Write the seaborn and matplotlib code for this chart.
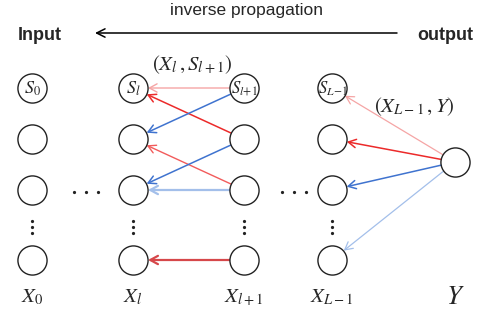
import numpy as np
import pandas as pd
import seaborn as sns
import matplotlib.pyplot as plt

# layers of the network, left to right
layers = ["X0", "Xl", "Xl1", "XL1", "Y"]
layer_labels = [r"$X_0$", r"$X_l$", r"$X_{l+1}$", r"$X_{L-1}$", r"$Y$"]
hidden_rows = [0, 1, 2, 4]          # row 3 is the vertical ellipsis
node_names = {("X0", 0): r"$S_0$", ("Xl", 0): r"$S_l$",
              ("Xl1", 0): r"$S_{l\!+\!1}$", ("XL1", 0): r"$S_{L\!-\!1}$"}

# back-propagation edges: source -> target, colour, width
edges = [
    ("Xl1", 0, "Xl", 0, "#f5a5a5", 1.0),
    ("Xl1", 1, "Xl", 0, "#ec2a2a", 1.1),
    ("Xl1", 0, "Xl", 1, "#3f73cf", 1.1),
    ("Xl1", 2, "Xl", 1, "#f25b5b", 1.0),
    ("Xl1", 1, "Xl", 2, "#3f73cf", 1.1),
    ("Xl1", 2, "Xl", 2, "#a3bfea", 1.6),
    ("Xl1", 4, "Xl", 4, "#d6474a", 1.6),
    ("Y", 0, "XL1", 0, "#f5a5a5", 0.9),
    ("Y", 0, "XL1", 1, "#ec2a2a", 1.1),
    ("Y", 0, "XL1", 2, "#3f73cf", 1.1),
    ("Y", 0, "XL1", 4, "#a3bfea", 0.9),
]

# layout (pixels)
layer_x = dict(zip(layers, [32, 133, 244, 332, 455]))
row_y = {0: 88, 1: 139, 2: 190, 4: 260}
out_y = 162
R = 14.5


def pos(layer, row):
    if layer == "Y":
        return layer_x[layer], out_y
    return layer_x[layer], row_y[row]


nodes = []
for lay in layers:
    rows = [0] if lay == "Y" else hidden_rows
    for r in rows:
        x, y = pos(lay, r)
        nodes.append({"layer": lay, "row": r, "x": x, "y": y})
nodes = pd.DataFrame(nodes)

sns.set_style("white")
plt.rcParams["mathtext.fontset"] = "stix"
plt.rcParams["font.family"] = ["Liberation Sans", "DejaVu Sans"]

fig = plt.figure(figsize=(4.85, 3.16), dpi=100)
ax = fig.add_axes([0, 0, 1, 1])

for s_lay, s_row, t_lay, t_row, col, lw in edges:
    x0, y0 = pos(s_lay, s_row)
    x1, y1 = pos(t_lay, t_row)
    d = np.array([x1 - x0, y1 - y0], float)
    d /= np.hypot(*d)
    start = (x0 + d[0] * (R - 1), y0 + d[1] * (R - 1))
    end = (x1 - d[0] * (R + 0.5), y1 - d[1] * (R + 0.5))
    ax.annotate("", xy=end, xytext=start,
                arrowprops=dict(arrowstyle="->,head_length=0.55,head_width=0.3",
                                color=col, lw=lw, shrinkA=0, shrinkB=0,
                                mutation_scale=10), zorder=2)

sns.scatterplot(data=nodes, x="x", y="y", s=440, marker="o", color="white",
                edgecolor="#222222", linewidth=1.0, ax=ax, zorder=3, legend=False)

for (lay, r), txt in node_names.items():
    x, y = pos(lay, r)
    fs = 13 if r"\!" not in txt else 12
    ax.text(x + 0.5, y + 1, txt, ha="center", va="center", fontsize=fs, zorder=4)

# ellipses
for lay in layers[:4]:
    ax.plot([layer_x[lay]] * 3, [221, 227, 233], ls="none", marker="o",
            ms=1.3, color="#222222")
for xc in [86, 294]:
    ax.plot([xc - 12, xc, xc + 12], [192] * 3, ls="none", marker="o",
            ms=1.3, color="#222222")

for lay, lab in zip(layers, layer_labels):
    ax.text(layer_x[lay], 297, lab, ha="center", va="center",
            fontsize=19 if lay == "Y" else 15)

ax.text(192, 65, r"$(X_l\,,S_{l+1})$", ha="center", va="center", fontsize=15)
ax.text(414, 107, r"$(X_{L-1}\,,Y)$", ha="center", va="center", fontsize=15)

# top caption
ax.text(247, 10, "inverse propagation", ha="center", va="center", fontsize=12.5)
ax.text(40, 35, "Input", ha="center", va="center", fontsize=13, fontweight="bold")
ax.text(445, 35, "output", ha="center", va="center", fontsize=13, fontweight="bold")
ax.annotate("", xy=(95, 33), xytext=(397, 33),
            arrowprops=dict(arrowstyle="->,head_length=0.6,head_width=0.3",
                            color="black", lw=1.1, shrinkA=0, shrinkB=0,
                            mutation_scale=10))

ax.set_xlim(0, 485)
ax.set_ylim(316, 0)
ax.set_xlabel("")
ax.set_ylabel("")
ax.axis("off")
fig.savefig("out.png", dpi=100)
